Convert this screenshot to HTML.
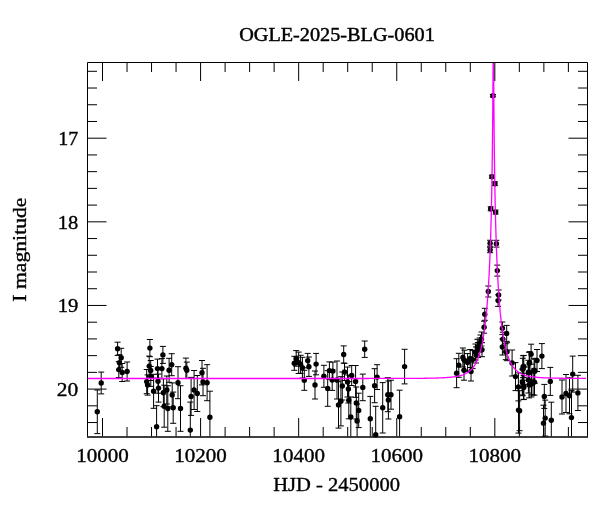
<!DOCTYPE html>
<html><head><meta charset="utf-8"><style>
html,body{margin:0;padding:0;background:#fff;width:600px;height:512px;overflow:hidden}
svg{display:block;will-change:transform}
</style></head><body>
<svg width="600" height="512" viewBox="0 0 600 512">
<defs><clipPath id="c"><rect x="87.5" y="62.5" width="500.0" height="374.0"/></clipPath></defs>
<rect width="600" height="512" fill="#fff"/>
<path d="M97.30 390.00V433.60M94.30 390.00h6M94.30 433.60h6M101.20 372.10V393.90M98.20 372.10h6M98.20 393.90h6M117.60 342.20V355.40M114.60 342.20h6M114.60 355.40h6M121.20 348.30V367.30M118.20 348.30h6M118.20 367.30h6M119.40 354.70V370.70M116.40 354.70h6M116.40 370.70h6M118.80 361.60V377.60M115.80 361.60h6M115.80 377.60h6M122.20 363.50V381.50M119.20 363.50h6M119.20 381.50h6M127.10 362.00V381.00M124.10 362.00h6M124.10 381.00h6M149.90 339.50V356.70M146.90 339.50h6M146.90 356.70h6M162.90 346.40V363.40M159.90 346.40h6M159.90 363.40h6M149.20 356.10V376.10M146.20 356.10h6M146.20 376.10h6M150.70 360.50V380.50M147.70 360.50h6M147.70 380.50h6M157.50 359.10V378.10M154.50 359.10h6M154.50 378.10h6M161.90 358.60V378.60M158.90 358.60h6M158.90 378.60h6M169.10 358.30V382.30M166.10 358.30h6M166.10 382.30h6M171.70 353.70V375.70M168.70 353.70h6M168.70 375.70h6M185.90 358.10V378.50M182.90 358.10h6M182.90 378.50h6M186.80 362.10V378.50M183.80 362.10h6M183.80 378.50h6M146.70 369.50V393.70M143.70 369.50h6M143.70 393.70h6M147.60 374.90V395.10M144.60 374.90h6M144.60 395.10h6M150.80 366.40V386.40M147.80 366.40h6M147.80 386.40h6M153.60 374.30V408.30M150.60 374.30h6M150.60 408.30h6M158.00 369.20V393.20M155.00 369.20h6M155.00 393.20h6M158.50 374.10V402.10M155.50 374.10h6M155.50 402.10h6M163.40 378.70V406.70M160.40 378.70h6M160.40 406.70h6M166.80 376.00V404.00M163.80 376.00h6M163.80 404.00h6M172.20 382.90V406.90M169.20 382.90h6M169.20 406.90h6M178.00 366.70V398.70M175.00 366.70h6M175.00 398.70h6M164.20 385.20V427.20M161.20 385.20h6M161.20 427.20h6M167.80 385.70V431.30M164.80 385.70h6M164.80 431.30h6M173.20 392.10V423.30M170.20 392.10h6M170.20 423.30h6M180.50 385.70V431.30M177.50 385.70h6M177.50 431.30h6M156.60 405.70V436.50M153.60 405.70h6M202.00 360.50V384.90M199.00 360.50h6M199.00 384.90h6M203.00 368.30V395.70M200.00 368.30h6M200.00 395.70h6M207.10 364.70V400.70M204.10 364.70h6M204.10 400.70h6M194.10 370.50V409.50M191.10 370.50h6M191.10 409.50h6M197.30 375.50V411.50M194.30 375.50h6M194.30 411.50h6M191.10 377.40V415.40M188.10 377.40h6M188.10 415.40h6M209.90 391.20V436.50M206.90 391.20h6M190.30 402.10V436.50M187.30 402.10h6M294.30 356.30V370.30M291.30 356.30h6M291.30 370.30h6M296.20 350.60V366.20M293.20 350.60h6M293.20 366.20h6M298.70 352.10V373.50M295.70 352.10h6M295.70 373.50h6M300.60 355.30V373.30M297.60 355.30h6M297.60 373.30h6M302.40 357.30V378.10M299.40 357.30h6M299.40 378.10h6M307.70 353.40V367.80M304.70 353.40h6M304.70 367.80h6M308.90 357.00V376.40M305.90 357.00h6M305.90 376.40h6M304.30 370.30V390.30M301.30 370.30h6M301.30 390.30h6M316.10 353.40V374.80M313.10 353.40h6M313.10 374.80h6M315.00 371.00V399.00M312.00 371.00h6M312.00 399.00h6M323.90 365.30V387.30M320.90 365.30h6M320.90 387.30h6M329.40 361.90V379.30M326.40 361.90h6M326.40 379.30h6M332.90 362.10V380.10M329.90 362.10h6M329.90 380.10h6M332.20 369.60V390.40M329.20 369.60h6M329.20 390.40h6M327.70 370.70V406.30M324.70 370.70h6M324.70 406.30h6M364.70 341.00V357.40M361.70 341.00h6M361.70 357.40h6M343.70 345.90V363.10M340.70 345.90h6M340.70 363.10h6M344.50 363.30V380.50M341.50 363.30h6M341.50 380.50h6M351.70 365.50V385.50M348.70 365.50h6M348.70 385.50h6M355.60 365.50V397.30M352.60 365.50h6M352.60 397.30h6M337.00 361.00V399.00M334.00 361.00h6M334.00 399.00h6M347.50 367.00V397.00M344.50 367.00h6M344.50 397.00h6M342.30 372.00V400.00M339.30 372.00h6M339.30 400.00h6M348.40 375.00V403.00M345.40 375.00h6M345.40 403.00h6M340.90 376.70V425.90M337.90 376.70h6M337.90 425.90h6M338.50 381.70V428.10M335.50 381.70h6M335.50 428.10h6M348.80 381.60V418.80M345.80 381.60h6M345.80 418.80h6M350.80 397.00V436.50M347.80 397.00h6M356.30 387.00V419.00M353.30 387.00h6M353.30 419.00h6M358.70 393.20V427.60M355.70 393.20h6M355.70 427.60h6M357.10 404.00V436.50M354.10 404.00h6M362.80 374.10V400.70M359.80 374.10h6M359.80 400.70h6M370.30 396.40V436.50M367.30 396.40h6M374.60 368.70V402.70M371.60 368.70h6M371.60 402.70h6M375.70 406.30V436.50M372.70 406.30h6M404.60 349.30V383.90M401.60 349.30h6M401.60 383.90h6M377.10 364.70V389.50M374.10 364.70h6M374.10 389.50h6M382.70 382.60V433.00M379.70 382.60h6M379.70 433.00h6M387.80 377.70V411.70M384.80 377.70h6M384.80 411.70h6M391.00 380.20V409.20M388.00 380.20h6M388.00 409.20h6M388.40 381.00V419.00M385.40 381.00h6M385.40 419.00h6M399.60 390.20V436.50M396.60 390.20h6M456.60 358.70V387.70M453.60 358.70h6M453.60 387.70h6M458.80 353.30V377.30M455.80 353.30h6M455.80 377.30h6M462.90 348.00V367.00M459.90 348.00h6M459.90 367.00h6M464.40 350.20V370.20M461.40 350.20h6M461.40 370.20h6M464.00 360.20V380.20M461.00 360.20h6M461.00 380.20h6M467.60 353.60V371.60M464.60 353.60h6M464.60 371.60h6M470.20 349.50V367.50M467.20 349.50h6M467.20 367.50h6M471.00 362.00V381.00M468.00 362.00h6M468.00 381.00h6M472.60 350.60V368.60M469.60 350.60h6M469.60 368.60h6M475.50 344.00V360.00M472.50 344.00h6M472.50 360.00h6M477.30 339.30V355.30M474.30 339.30h6M474.30 355.30h6M476.00 347.00V363.00M473.00 347.00h6M473.00 363.00h6M478.00 342.50V357.50M475.00 342.50h6M475.00 357.50h6M479.50 338.00V352.00M476.50 338.00h6M476.50 352.00h6M480.50 335.00V349.00M477.50 335.00h6M477.50 349.00h6M481.50 332.00V346.00M478.50 332.00h6M478.50 346.00h6M482.00 342.70V356.70M479.00 342.70h6M479.00 356.70h6M484.10 321.20V333.20M481.10 321.20h6M481.10 333.20h6M484.80 308.30V320.30M481.80 308.30h6M481.80 320.30h6M488.30 286.00V297.00M485.30 286.00h6M485.30 297.00h6M490.10 247.30V252.70M487.10 247.30h6M487.10 252.70h6M490.10 240.25V246.25M487.10 240.25h6M487.10 246.25h6M490.70 206.80V210.80M487.70 206.80h6M487.70 210.80h6M491.90 175.20V178.20M488.90 175.20h6M488.90 178.20h6M492.90 94.50V96.90M489.90 94.50h6M489.90 96.90h6M494.90 181.80V185.60M491.90 181.80h6M491.90 185.60h6M495.60 210.10V214.10M492.60 210.10h6M492.60 214.10h6M496.40 240.30V247.10M493.40 240.30h6M493.40 247.10h6M497.30 265.10V276.10M494.30 265.10h6M494.30 276.10h6M498.60 290.00V300.00M495.60 290.00h6M495.60 300.00h6M498.10 294.80V306.40M495.10 294.80h6M495.10 306.40h6M502.40 322.00V334.60M499.40 322.00h6M499.40 334.60h6M506.70 325.40V341.40M503.70 325.40h6M503.70 341.40h6M502.80 332.20V346.20M499.80 332.20h6M499.80 346.20h6M502.40 339.00V355.00M499.40 339.00h6M499.40 355.00h6M505.70 343.70V359.70M502.70 343.70h6M502.70 359.70h6M507.10 342.70V360.70M504.10 342.70h6M504.10 360.70h6M512.10 350.00V376.00M509.10 350.00h6M509.10 376.00h6M515.50 362.60V390.60M512.50 362.60h6M512.50 390.60h6M523.80 355.40V377.40M520.80 355.40h6M520.80 377.40h6M522.80 358.30V380.30M519.80 358.30h6M519.80 380.30h6M531.10 344.20V364.20M528.10 344.20h6M528.10 364.20h6M537.00 349.50V371.50M534.00 349.50h6M534.00 371.50h6M541.90 343.60V368.60M538.90 343.60h6M538.90 368.60h6M529.20 352.40V374.40M526.20 352.40h6M526.20 374.40h6M534.10 358.30V382.30M531.10 358.30h6M531.10 382.30h6M522.30 369.00V395.00M519.30 369.00h6M519.30 395.00h6M533.10 369.00V395.00M530.10 369.00h6M530.10 395.00h6M529.20 371.90V397.90M526.20 371.90h6M526.20 397.90h6M518.40 372.90V400.90M515.40 372.90h6M515.40 400.90h6M522.60 369.70V395.70M519.60 369.70h6M519.60 395.70h6M523.80 373.30V399.30M520.80 373.30h6M520.80 399.30h6M531.50 370.90V396.90M528.50 370.90h6M528.50 396.90h6M534.50 369.10V395.10M531.50 369.10h6M531.50 395.10h6M518.50 387.10V433.10M515.50 387.10h6M515.50 433.10h6M519.60 390.70V430.70M516.60 390.70h6M516.60 430.70h6M544.30 384.40V408.40M541.30 384.40h6M541.30 408.40h6M545.20 400.10V436.10M542.20 400.10h6M542.20 436.10h6M543.50 405.20V436.50M540.50 405.20h6M550.30 367.40V395.40M547.30 367.40h6M547.30 395.40h6M572.70 356.10V392.10M569.70 356.10h6M569.70 392.10h6M562.00 380.00V414.00M559.00 380.00h6M559.00 414.00h6M566.00 374.50V412.50M563.00 374.50h6M563.00 412.50h6M569.50 377.80V413.80M566.50 377.80h6M566.50 413.80h6M571.50 390.60V436.50M568.50 390.60h6M577.90 375.30V410.50M574.90 375.30h6M574.90 410.50h6M551.30 402.20V436.50M548.30 402.20h6M523.10 355.70V377.70M520.10 355.70h6M520.10 377.70h6M528.40 360.30V384.30M525.40 360.30h6M525.40 384.30h6M534.80 359.20V383.20M531.80 359.20h6M531.80 383.20h6M529.60 351.60V373.60M526.60 351.60h6M526.60 373.60h6M528.40 367.00V393.00M525.40 367.00h6M525.40 393.00h6M531.30 370.90V394.90M528.30 370.90h6M528.30 394.90h6M523.70 375.60V399.60M520.70 375.60h6M520.70 399.60h6" stroke="#000" stroke-width="1" fill="none"/><g fill="#000"><circle cx="97.30" cy="411.80" r="2.7"/><circle cx="101.20" cy="383.00" r="2.7"/><circle cx="117.60" cy="348.80" r="2.7"/><circle cx="121.20" cy="357.80" r="2.7"/><circle cx="119.40" cy="362.70" r="2.7"/><circle cx="118.80" cy="369.60" r="2.7"/><circle cx="122.20" cy="372.50" r="2.7"/><circle cx="127.10" cy="371.50" r="2.7"/><circle cx="149.90" cy="348.10" r="2.7"/><circle cx="162.90" cy="354.90" r="2.7"/><circle cx="149.20" cy="366.10" r="2.7"/><circle cx="150.70" cy="370.50" r="2.7"/><circle cx="157.50" cy="368.60" r="2.7"/><circle cx="161.90" cy="368.60" r="2.7"/><circle cx="169.10" cy="370.30" r="2.7"/><circle cx="171.70" cy="364.70" r="2.7"/><circle cx="185.90" cy="368.30" r="2.7"/><circle cx="186.80" cy="370.30" r="2.7"/><circle cx="146.70" cy="381.60" r="2.7"/><circle cx="147.60" cy="385.00" r="2.7"/><circle cx="150.80" cy="376.40" r="2.7"/><circle cx="153.60" cy="391.30" r="2.7"/><circle cx="158.00" cy="381.20" r="2.7"/><circle cx="158.50" cy="388.10" r="2.7"/><circle cx="163.40" cy="392.70" r="2.7"/><circle cx="166.80" cy="390.00" r="2.7"/><circle cx="172.20" cy="394.90" r="2.7"/><circle cx="178.00" cy="382.70" r="2.7"/><circle cx="164.20" cy="406.20" r="2.7"/><circle cx="167.80" cy="408.50" r="2.7"/><circle cx="173.20" cy="407.70" r="2.7"/><circle cx="180.50" cy="408.50" r="2.7"/><circle cx="156.60" cy="426.70" r="2.7"/><circle cx="202.00" cy="372.70" r="2.7"/><circle cx="203.00" cy="382.00" r="2.7"/><circle cx="207.10" cy="382.70" r="2.7"/><circle cx="194.10" cy="390.00" r="2.7"/><circle cx="197.30" cy="393.50" r="2.7"/><circle cx="191.10" cy="396.40" r="2.7"/><circle cx="209.90" cy="417.20" r="2.7"/><circle cx="190.30" cy="430.10" r="2.7"/><circle cx="294.30" cy="363.30" r="2.7"/><circle cx="296.20" cy="358.40" r="2.7"/><circle cx="298.70" cy="362.80" r="2.7"/><circle cx="300.60" cy="364.30" r="2.7"/><circle cx="302.40" cy="367.70" r="2.7"/><circle cx="307.70" cy="360.60" r="2.7"/><circle cx="308.90" cy="366.70" r="2.7"/><circle cx="304.30" cy="380.30" r="2.7"/><circle cx="316.10" cy="364.10" r="2.7"/><circle cx="315.00" cy="385.00" r="2.7"/><circle cx="323.90" cy="376.30" r="2.7"/><circle cx="329.40" cy="370.60" r="2.7"/><circle cx="332.90" cy="371.10" r="2.7"/><circle cx="332.20" cy="380.00" r="2.7"/><circle cx="327.70" cy="388.50" r="2.7"/><circle cx="364.70" cy="349.20" r="2.7"/><circle cx="343.70" cy="354.50" r="2.7"/><circle cx="344.50" cy="371.90" r="2.7"/><circle cx="351.70" cy="375.50" r="2.7"/><circle cx="355.60" cy="381.40" r="2.7"/><circle cx="337.00" cy="380.00" r="2.7"/><circle cx="347.50" cy="382.00" r="2.7"/><circle cx="342.30" cy="386.00" r="2.7"/><circle cx="348.40" cy="389.00" r="2.7"/><circle cx="340.90" cy="401.30" r="2.7"/><circle cx="338.50" cy="404.90" r="2.7"/><circle cx="348.80" cy="400.20" r="2.7"/><circle cx="350.80" cy="417.00" r="2.7"/><circle cx="356.30" cy="403.00" r="2.7"/><circle cx="358.70" cy="410.40" r="2.7"/><circle cx="357.10" cy="421.00" r="2.7"/><circle cx="362.80" cy="387.40" r="2.7"/><circle cx="370.30" cy="418.80" r="2.7"/><circle cx="374.60" cy="385.70" r="2.7"/><circle cx="375.70" cy="434.70" r="2.7"/><circle cx="404.60" cy="366.60" r="2.7"/><circle cx="377.10" cy="377.10" r="2.7"/><circle cx="382.70" cy="407.80" r="2.7"/><circle cx="387.80" cy="394.70" r="2.7"/><circle cx="391.00" cy="394.70" r="2.7"/><circle cx="388.40" cy="400.00" r="2.7"/><circle cx="399.60" cy="416.80" r="2.7"/><circle cx="456.60" cy="373.20" r="2.7"/><circle cx="458.80" cy="365.30" r="2.7"/><circle cx="462.90" cy="357.50" r="2.7"/><circle cx="464.40" cy="360.20" r="2.7"/><circle cx="464.00" cy="370.20" r="2.7"/><circle cx="467.60" cy="362.60" r="2.7"/><circle cx="470.20" cy="358.50" r="2.7"/><circle cx="471.00" cy="371.50" r="2.7"/><circle cx="472.60" cy="359.60" r="2.7"/><circle cx="475.50" cy="352.00" r="2.7"/><circle cx="477.30" cy="347.30" r="2.7"/><circle cx="476.00" cy="355.00" r="2.7"/><circle cx="478.00" cy="350.00" r="2.7"/><circle cx="479.50" cy="345.00" r="2.7"/><circle cx="480.50" cy="342.00" r="2.7"/><circle cx="481.50" cy="339.00" r="2.7"/><circle cx="482.00" cy="349.70" r="2.7"/><circle cx="484.10" cy="327.20" r="2.7"/><circle cx="484.80" cy="314.30" r="2.7"/><circle cx="488.30" cy="291.50" r="2.7"/><circle cx="490.10" cy="250.00" r="2.7"/><circle cx="490.10" cy="243.25" r="2.7"/><circle cx="490.70" cy="208.80" r="2.7"/><circle cx="491.90" cy="176.70" r="2.7"/><circle cx="492.90" cy="95.70" r="2.7"/><circle cx="494.90" cy="183.70" r="2.7"/><circle cx="495.60" cy="212.10" r="2.7"/><circle cx="496.40" cy="243.70" r="2.7"/><circle cx="497.30" cy="270.60" r="2.7"/><circle cx="498.60" cy="295.00" r="2.7"/><circle cx="498.10" cy="300.60" r="2.7"/><circle cx="502.40" cy="328.30" r="2.7"/><circle cx="506.70" cy="333.40" r="2.7"/><circle cx="502.80" cy="339.20" r="2.7"/><circle cx="502.40" cy="347.00" r="2.7"/><circle cx="505.70" cy="351.70" r="2.7"/><circle cx="507.10" cy="351.70" r="2.7"/><circle cx="512.10" cy="363.00" r="2.7"/><circle cx="515.50" cy="376.60" r="2.7"/><circle cx="523.80" cy="366.40" r="2.7"/><circle cx="522.80" cy="369.30" r="2.7"/><circle cx="531.10" cy="354.20" r="2.7"/><circle cx="537.00" cy="360.50" r="2.7"/><circle cx="541.90" cy="356.10" r="2.7"/><circle cx="529.20" cy="363.40" r="2.7"/><circle cx="534.10" cy="370.30" r="2.7"/><circle cx="522.30" cy="382.00" r="2.7"/><circle cx="533.10" cy="382.00" r="2.7"/><circle cx="529.20" cy="384.90" r="2.7"/><circle cx="518.40" cy="386.90" r="2.7"/><circle cx="522.60" cy="382.70" r="2.7"/><circle cx="523.80" cy="386.30" r="2.7"/><circle cx="531.50" cy="383.90" r="2.7"/><circle cx="534.50" cy="382.10" r="2.7"/><circle cx="518.50" cy="410.10" r="2.7"/><circle cx="519.60" cy="410.70" r="2.7"/><circle cx="544.30" cy="396.40" r="2.7"/><circle cx="545.20" cy="418.10" r="2.7"/><circle cx="543.50" cy="423.20" r="2.7"/><circle cx="550.30" cy="381.40" r="2.7"/><circle cx="572.70" cy="374.10" r="2.7"/><circle cx="562.00" cy="397.00" r="2.7"/><circle cx="566.00" cy="393.50" r="2.7"/><circle cx="569.50" cy="395.80" r="2.7"/><circle cx="571.50" cy="417.60" r="2.7"/><circle cx="577.90" cy="392.90" r="2.7"/><circle cx="551.30" cy="420.20" r="2.7"/><circle cx="523.10" cy="366.70" r="2.7"/><circle cx="528.40" cy="372.30" r="2.7"/><circle cx="534.80" cy="371.20" r="2.7"/><circle cx="529.60" cy="362.60" r="2.7"/><circle cx="528.40" cy="380.00" r="2.7"/><circle cx="531.30" cy="382.90" r="2.7"/><circle cx="523.70" cy="387.60" r="2.7"/></g><polyline points="87.30,378.50 88.28,378.50 89.26,378.50 90.24,378.50 91.22,378.50 92.20,378.50 93.18,378.50 94.16,378.50 95.14,378.50 96.12,378.50 97.11,378.50 98.09,378.50 99.07,378.50 100.05,378.50 101.03,378.50 102.01,378.50 102.99,378.50 103.97,378.50 104.95,378.50 105.93,378.50 106.91,378.50 107.89,378.50 108.88,378.50 109.86,378.50 110.84,378.50 111.82,378.50 112.80,378.50 113.78,378.50 114.76,378.50 115.74,378.50 116.72,378.50 117.70,378.50 118.68,378.50 119.66,378.50 120.64,378.50 121.63,378.50 122.61,378.50 123.59,378.50 124.57,378.50 125.55,378.50 126.53,378.50 127.51,378.50 128.49,378.50 129.47,378.50 130.45,378.50 131.43,378.50 132.41,378.50 133.40,378.50 134.38,378.50 135.36,378.50 136.34,378.50 137.32,378.50 138.30,378.50 139.28,378.50 140.26,378.50 141.24,378.50 142.22,378.50 143.20,378.50 144.18,378.50 145.16,378.50 146.15,378.50 147.13,378.50 148.11,378.50 149.09,378.50 150.07,378.50 151.05,378.50 152.03,378.50 153.01,378.50 153.99,378.50 154.97,378.50 155.95,378.50 156.93,378.50 157.92,378.50 158.90,378.50 159.88,378.50 160.86,378.50 161.84,378.50 162.82,378.50 163.80,378.50 164.78,378.50 165.76,378.50 166.74,378.50 167.72,378.50 168.70,378.50 169.68,378.50 170.67,378.50 171.65,378.50 172.63,378.50 173.61,378.50 174.59,378.50 175.57,378.50 176.55,378.50 177.53,378.50 178.51,378.50 179.49,378.50 180.47,378.50 181.45,378.50 182.44,378.50 183.42,378.50 184.40,378.50 185.38,378.50 186.36,378.50 187.34,378.50 188.32,378.50 189.30,378.50 190.28,378.50 191.26,378.50 192.24,378.50 193.22,378.50 194.20,378.50 195.19,378.50 196.17,378.50 197.15,378.50 198.13,378.50 199.11,378.50 200.09,378.50 201.07,378.50 202.05,378.50 203.03,378.50 204.01,378.50 204.99,378.50 205.97,378.50 206.96,378.50 207.94,378.50 208.92,378.50 209.90,378.50 210.88,378.50 211.86,378.50 212.84,378.50 213.82,378.50 214.80,378.50 215.78,378.50 216.76,378.50 217.74,378.50 218.72,378.50 219.71,378.50 220.69,378.50 221.67,378.50 222.65,378.50 223.63,378.50 224.61,378.50 225.59,378.50 226.57,378.50 227.55,378.50 228.53,378.50 229.51,378.50 230.49,378.50 231.48,378.50 232.46,378.50 233.44,378.50 234.42,378.50 235.40,378.50 236.38,378.50 237.36,378.50 238.34,378.50 239.32,378.50 240.30,378.50 241.28,378.50 242.26,378.50 243.24,378.50 244.23,378.50 245.21,378.50 246.19,378.50 247.17,378.50 248.15,378.50 249.13,378.50 250.11,378.50 251.09,378.50 252.07,378.50 253.05,378.50 254.03,378.50 255.01,378.50 256.00,378.50 256.98,378.50 257.96,378.50 258.94,378.50 259.92,378.50 260.90,378.50 261.88,378.50 262.86,378.50 263.84,378.50 264.82,378.50 265.80,378.50 266.78,378.50 267.76,378.50 268.75,378.50 269.73,378.50 270.71,378.50 271.69,378.50 272.67,378.50 273.65,378.50 274.63,378.50 275.61,378.50 276.59,378.50 277.57,378.50 278.55,378.50 279.53,378.50 280.52,378.50 281.50,378.50 282.48,378.50 283.46,378.50 284.44,378.50 285.42,378.50 286.40,378.50 287.38,378.50 288.36,378.50 289.34,378.50 290.32,378.50 291.30,378.50 292.28,378.50 293.27,378.50 294.25,378.50 295.23,378.50 296.21,378.50 297.19,378.50 298.17,378.50 299.15,378.50 300.13,378.50 301.11,378.50 302.09,378.50 303.07,378.50 304.05,378.50 305.04,378.50 306.02,378.50 307.00,378.50 307.98,378.49 308.96,378.49 309.94,378.49 310.92,378.49 311.90,378.49 312.88,378.49 313.86,378.49 314.84,378.49 315.82,378.49 316.80,378.49 317.79,378.49 318.77,378.49 319.75,378.49 320.73,378.49 321.71,378.49 322.69,378.49 323.67,378.49 324.65,378.49 325.63,378.49 326.61,378.49 327.59,378.49 328.57,378.49 329.56,378.49 330.54,378.49 331.52,378.49 332.50,378.49 333.48,378.49 334.46,378.49 335.44,378.49 336.42,378.49 337.40,378.49 338.38,378.49 339.36,378.49 340.34,378.49 341.32,378.49 342.31,378.49 343.29,378.49 344.27,378.49 345.25,378.49 346.23,378.49 347.21,378.49 348.19,378.49 349.17,378.49 350.15,378.49 351.13,378.49 352.11,378.49 353.09,378.48 354.08,378.48 355.06,378.48 356.04,378.48 357.02,378.48 358.00,378.48 358.98,378.48 359.96,378.48 360.94,378.48 361.92,378.48 362.90,378.48 363.88,378.48 364.86,378.48 365.84,378.48 366.83,378.48 367.81,378.48 368.79,378.48 369.77,378.47 370.75,378.47 371.73,378.47 372.71,378.47 373.69,378.47 374.67,378.47 375.65,378.47 376.63,378.47 377.61,378.47 378.60,378.47 379.58,378.47 380.56,378.46 381.54,378.46 382.52,378.46 383.50,378.46 384.48,378.46 385.46,378.46 386.44,378.46 387.42,378.45 388.40,378.45 389.38,378.45 390.36,378.45 391.35,378.45 392.33,378.45 393.31,378.44 394.29,378.44 395.27,378.44 396.25,378.44 397.23,378.43 398.21,378.43 399.19,378.43 400.17,378.43 401.15,378.42 402.13,378.42 403.12,378.42 404.10,378.41 405.08,378.41 406.06,378.40 407.04,378.40 408.02,378.40 409.00,378.39 409.98,378.39 410.96,378.38 411.94,378.38 412.92,378.37 413.90,378.36 414.88,378.36 415.87,378.35 416.85,378.34 417.83,378.33 418.81,378.33 419.79,378.32 420.77,378.31 421.75,378.30 422.73,378.29 423.71,378.28 424.69,378.26 425.67,378.25 426.65,378.24 427.64,378.22 428.62,378.21 429.60,378.19 430.58,378.17 431.56,378.15 432.54,378.13 433.52,378.11 434.50,378.08 435.48,378.06 436.46,378.03 437.44,378.00 438.42,377.97 439.40,377.93 440.39,377.89 441.37,377.85 442.35,377.81 443.33,377.76 444.31,377.71 445.29,377.65 446.27,377.59 447.25,377.52 448.23,377.44 449.21,377.36 450.19,377.27 451.17,377.17 452.16,377.06 453.14,376.94 454.12,376.81 455.10,376.67 456.08,376.51 457.06,376.33 458.04,376.14 459.02,375.92 460.00,375.68 460.98,375.41 461.96,375.11 462.94,374.77 463.92,374.39 464.91,373.97 465.89,373.49 466.87,372.96 467.85,372.36 468.83,371.67 469.81,370.90 470.79,370.02 471.77,369.03 472.75,367.89 473.73,366.60 474.71,365.11 475.20,364.29 475.23,364.25 475.25,364.21 475.28,364.16 475.30,364.12 475.33,364.08 475.35,364.03 475.38,363.99 475.40,363.95 475.42,363.90 475.45,363.86 475.47,363.82 475.50,363.77 475.52,363.73 475.55,363.68 475.57,363.64 475.60,363.59 475.62,363.55 475.65,363.50 475.67,363.46 475.69,363.41 475.72,363.37 475.74,363.32 475.77,363.28 475.79,363.23 475.82,363.18 475.84,363.14 475.87,363.09 475.89,363.04 475.92,363.00 475.94,362.95 475.96,362.90 475.99,362.86 476.01,362.81 476.04,362.76 476.06,362.71 476.09,362.66 476.11,362.62 476.14,362.57 476.16,362.52 476.18,362.47 476.21,362.42 476.23,362.37 476.26,362.32 476.28,362.27 476.31,362.23 476.33,362.18 476.36,362.13 476.38,362.08 476.41,362.03 476.43,361.97 476.45,361.92 476.48,361.87 476.50,361.82 476.53,361.77 476.55,361.72 476.58,361.67 476.60,361.62 476.63,361.56 476.65,361.51 476.68,361.46 476.70,361.41 476.72,361.36 476.75,361.30 476.77,361.25 476.80,361.20 476.82,361.14 476.85,361.09 476.87,361.04 476.90,360.98 476.92,360.93 476.94,360.87 476.97,360.82 476.99,360.76 477.02,360.71 477.04,360.65 477.07,360.60 477.09,360.54 477.12,360.49 477.14,360.43 477.17,360.38 477.19,360.32 477.21,360.26 477.24,360.21 477.26,360.15 477.29,360.09 477.31,360.04 477.34,359.98 477.36,359.92 477.39,359.86 477.41,359.80 477.44,359.75 477.46,359.69 477.48,359.63 477.51,359.57 477.53,359.51 477.56,359.45 477.58,359.39 477.61,359.33 477.63,359.27 477.66,359.21 477.68,359.15 477.71,359.09 477.73,359.03 477.75,358.97 477.78,358.91 477.80,358.85 477.83,358.78 477.85,358.72 477.88,358.66 477.90,358.60 477.93,358.54 477.95,358.47 477.97,358.41 478.00,358.35 478.02,358.28 478.05,358.22 478.07,358.15 478.10,358.09 478.12,358.03 478.15,357.96 478.17,357.90 478.20,357.83 478.22,357.77 478.24,357.70 478.27,357.63 478.29,357.57 478.32,357.50 478.34,357.44 478.37,357.37 478.39,357.30 478.42,357.23 478.44,357.17 478.47,357.10 478.49,357.03 478.51,356.96 478.54,356.89 478.56,356.82 478.59,356.76 478.61,356.69 478.64,356.62 478.66,356.55 478.69,356.48 478.71,356.41 478.73,356.34 478.76,356.26 478.78,356.19 478.81,356.12 478.83,356.05 478.86,355.98 478.88,355.91 478.91,355.83 478.93,355.76 478.96,355.69 478.98,355.62 479.00,355.54 479.03,355.47 479.05,355.39 479.08,355.32 479.10,355.24 479.13,355.17 479.15,355.09 479.18,355.02 479.20,354.94 479.23,354.87 479.25,354.79 479.27,354.71 479.30,354.64 479.32,354.56 479.35,354.48 479.37,354.41 479.40,354.33 479.42,354.25 479.45,354.17 479.47,354.09 479.49,354.01 479.52,353.93 479.54,353.85 479.57,353.77 479.59,353.69 479.62,353.61 479.64,353.53 479.67,353.45 479.69,353.37 479.72,353.29 479.74,353.20 479.76,353.12 479.79,353.04 479.81,352.96 479.84,352.87 479.86,352.79 479.89,352.71 479.91,352.62 479.94,352.54 479.96,352.45 479.99,352.37 480.01,352.28 480.03,352.19 480.06,352.11 480.08,352.02 480.11,351.93 480.13,351.85 480.16,351.76 480.18,351.67 480.21,351.58 480.23,351.49 480.26,351.41 480.28,351.32 480.30,351.23 480.33,351.14 480.35,351.05 480.38,350.96 480.40,350.87 480.43,350.77 480.45,350.68 480.48,350.59 480.50,350.50 480.52,350.41 480.55,350.31 480.57,350.22 480.60,350.13 480.62,350.03 480.65,349.94 480.67,349.84 480.70,349.75 480.72,349.65 480.75,349.56 480.77,349.46 480.79,349.36 480.82,349.27 480.84,349.17 480.87,349.07 480.89,348.97 480.92,348.87 480.94,348.77 480.97,348.67 480.99,348.58 481.02,348.48 481.04,348.37 481.06,348.27 481.09,348.17 481.11,348.07 481.14,347.97 481.16,347.87 481.19,347.76 481.21,347.66 481.24,347.56 481.26,347.45 481.28,347.35 481.31,347.24 481.33,347.14 481.36,347.03 481.38,346.93 481.41,346.82 481.43,346.71 481.46,346.61 481.48,346.50 481.51,346.39 481.53,346.28 481.55,346.17 481.58,346.06 481.60,345.95 481.63,345.84 481.65,345.73 481.68,345.62 481.70,345.51 481.73,345.40 481.75,345.29 481.78,345.17 481.80,345.06 481.82,344.95 481.85,344.83 481.87,344.72 481.90,344.60 481.92,344.49 481.95,344.37 481.97,344.25 482.00,344.14 482.02,344.02 482.05,343.90 482.07,343.78 482.09,343.67 482.12,343.55 482.14,343.43 482.17,343.31 482.19,343.19 482.22,343.06 482.24,342.94 482.27,342.82 482.29,342.70 482.31,342.57 482.34,342.45 482.36,342.33 482.39,342.20 482.41,342.08 482.44,341.95 482.46,341.83 482.49,341.70 482.51,341.57 482.54,341.44 482.56,341.32 482.58,341.19 482.61,341.06 482.63,340.93 482.66,340.80 482.68,340.67 482.71,340.54 482.73,340.40 482.76,340.27 482.78,340.14 482.81,340.01 482.83,339.87 482.85,339.74 482.88,339.60 482.90,339.47 482.93,339.33 482.95,339.19 482.98,339.06 483.00,338.92 483.03,338.78 483.05,338.64 483.07,338.50 483.10,338.36 483.12,338.22 483.15,338.08 483.17,337.94 483.20,337.80 483.22,337.65 483.25,337.51 483.27,337.37 483.30,337.22 483.32,337.08 483.34,336.93 483.37,336.78 483.39,336.64 483.42,336.49 483.44,336.34 483.47,336.19 483.49,336.04 483.52,335.89 483.54,335.74 483.57,335.59 483.59,335.44 483.61,335.28 483.64,335.13 483.66,334.98 483.69,334.82 483.71,334.67 483.74,334.51 483.76,334.35 483.79,334.20 483.81,334.04 483.84,333.88 483.86,333.72 483.88,333.56 483.91,333.40 483.93,333.24 483.96,333.08 483.98,332.91 484.01,332.75 484.03,332.59 484.06,332.42 484.08,332.26 484.10,332.09 484.13,331.92 484.15,331.76 484.18,331.59 484.20,331.42 484.23,331.25 484.25,331.08 484.28,330.91 484.30,330.74 484.33,330.56 484.35,330.39 484.37,330.22 484.40,330.04 484.42,329.87 484.45,329.69 484.47,329.51 484.50,329.33 484.52,329.16 484.55,328.98 484.57,328.80 484.60,328.61 484.62,328.43 484.64,328.25 484.67,328.07 484.69,327.88 484.72,327.70 484.74,327.51 484.77,327.32 484.79,327.14 484.82,326.95 484.84,326.76 484.86,326.57 484.89,326.38 484.91,326.19 484.94,325.99 484.96,325.80 484.99,325.61 485.01,325.41 485.04,325.22 485.06,325.02 485.09,324.82 485.11,324.62 485.13,324.42 485.16,324.22 485.18,324.02 485.21,323.82 485.23,323.62 485.26,323.41 485.28,323.21 485.31,323.00 485.33,322.80 485.36,322.59 485.38,322.38 485.40,322.17 485.43,321.96 485.45,321.75 485.48,321.53 485.50,321.32 485.53,321.11 485.55,320.89 485.58,320.67 485.60,320.46 485.62,320.24 485.65,320.02 485.67,319.80 485.70,319.58 485.72,319.36 485.75,319.13 485.77,318.91 485.80,318.68 485.82,318.45 485.85,318.23 485.87,318.00 485.89,317.77 485.92,317.54 485.94,317.31 485.97,317.07 485.99,316.84 486.02,316.60 486.04,316.37 486.07,316.13 486.09,315.89 486.12,315.65 486.14,315.41 486.16,315.17 486.19,314.92 486.21,314.68 486.24,314.43 486.26,314.19 486.29,313.94 486.31,313.69 486.34,313.44 486.36,313.19 486.39,312.94 486.41,312.68 486.43,312.43 486.46,312.17 486.48,311.91 486.51,311.65 486.53,311.39 486.56,311.13 486.58,310.87 486.61,310.60 486.63,310.34 486.65,310.07 486.68,309.80 486.70,309.53 486.73,309.26 486.75,308.99 486.78,308.72 486.80,308.44 486.83,308.17 486.85,307.89 486.88,307.61 486.90,307.33 486.92,307.05 486.95,306.76 486.97,306.48 487.00,306.19 487.02,305.90 487.05,305.62 487.07,305.32 487.10,305.03 487.12,304.74 487.15,304.44 487.17,304.15 487.19,303.85 487.22,303.55 487.24,303.25 487.27,302.94 487.29,302.64 487.32,302.33 487.34,302.03 487.37,301.72 487.39,301.41 487.41,301.09 487.44,300.78 487.46,300.46 487.49,300.14 487.51,299.82 487.54,299.50 487.56,299.18 487.59,298.86 487.61,298.53 487.64,298.20 487.66,297.87 487.68,297.54 487.71,297.21 487.73,296.87 487.76,296.53 487.78,296.19 487.81,295.85 487.83,295.51 487.86,295.16 487.88,294.82 487.91,294.47 487.93,294.12 487.95,293.77 487.98,293.41 488.00,293.05 488.03,292.70 488.05,292.33 488.08,291.97 488.10,291.61 488.13,291.24 488.15,290.87 488.18,290.50 488.20,290.13 488.22,289.75 488.25,289.37 488.27,288.99 488.30,288.61 488.32,288.22 488.35,287.84 488.37,287.45 488.40,287.06 488.42,286.66 488.44,286.27 488.47,285.87 488.49,285.47 488.52,285.06 488.54,284.66 488.57,284.25 488.59,283.84 488.62,283.42 488.64,283.01 488.67,282.59 488.69,282.17 488.71,281.74 488.74,281.32 488.76,280.89 488.79,280.46 488.81,280.02 488.84,279.59 488.86,279.14 488.89,278.70 488.91,278.26 488.94,277.81 488.96,277.36 488.98,276.90 489.01,276.44 489.03,275.98 489.06,275.52 489.08,275.05 489.11,274.58 489.13,274.11 489.16,273.63 489.18,273.15 489.20,272.67 489.23,272.18 489.25,271.69 489.28,271.20 489.30,270.71 489.33,270.21 489.35,269.70 489.38,269.20 489.40,268.69 489.43,268.17 489.45,267.65 489.47,267.13 489.50,266.61 489.52,266.08 489.55,265.55 489.57,265.01 489.60,264.47 489.62,263.93 489.65,263.38 489.67,262.83 489.70,262.27 489.72,261.71 489.74,261.14 489.77,260.57 489.79,260.00 489.82,259.42 489.84,258.84 489.87,258.25 489.89,257.66 489.92,257.07 489.94,256.47 489.97,255.86 489.99,255.25 490.01,254.63 490.04,254.01 490.06,253.39 490.09,252.76 490.11,252.12 490.14,251.48 490.16,250.83 490.19,250.18 490.21,249.53 490.23,248.86 490.26,248.19 490.28,247.52 490.31,246.84 490.33,246.15 490.36,245.46 490.38,244.76 490.41,244.06 490.43,243.35 490.46,242.63 490.48,241.91 490.50,241.18 490.53,240.44 490.55,239.70 490.58,238.95 490.60,238.19 490.63,237.43 490.65,236.65 490.68,235.87 490.70,235.09 490.73,234.29 490.75,233.49 490.77,232.68 490.80,231.86 490.82,231.03 490.85,230.20 490.87,229.36 490.90,228.50 490.92,227.64 490.95,226.77 490.97,225.89 490.99,225.00 491.02,224.10 491.04,223.19 491.07,222.28 491.09,221.35 491.12,220.41 491.14,219.46 491.17,218.50 491.19,217.53 491.22,216.54 491.24,215.55 491.26,214.54 491.29,213.52 491.31,212.49 491.34,211.45 491.36,210.39 491.39,209.32 491.41,208.24 491.44,207.14 491.46,206.03 491.49,204.91 491.51,203.77 491.53,202.61 491.56,201.44 491.58,200.26 491.61,199.05 491.63,197.83 491.66,196.60 491.68,195.34 491.71,194.07 491.73,192.78 491.75,191.47 491.78,190.14 491.80,188.79 491.83,187.41 491.85,186.02 491.88,184.61 491.90,183.17 491.93,181.71 491.95,180.22 491.98,178.72 492.00,177.18 492.02,175.62 492.05,174.03 492.07,172.41 492.10,170.77 492.12,169.09 492.15,167.38 492.17,165.65 492.20,163.87 492.22,162.07 492.25,160.23 492.27,158.35 492.29,156.43 492.32,154.48 492.34,152.48 492.37,150.44 492.39,148.36 492.42,146.23 492.44,144.05 492.47,141.82 492.49,139.55 492.52,137.21 492.54,134.83 492.56,132.39 492.59,129.88 492.61,127.32 492.64,124.69 492.66,121.99 492.69,119.23 492.71,116.39 492.74,113.48 492.76,110.49 492.78,107.43 492.81,104.28 492.83,101.06 492.86,97.75 492.88,94.36 492.91,90.89 492.93,87.34 492.96,83.71 492.98,80.01 493.01,76.26 493.03,72.45 493.05,68.62 493.08,64.78 493.10,60.95 493.13,57.19 493.15,53.54 493.18,50.04 493.20,46.77 493.23,43.81 493.25,41.22 493.28,39.09 493.30,37.50 493.32,36.51 493.35,36.15 493.37,36.45 493.40,37.38 493.42,38.91 493.45,40.99 493.47,43.54 493.50,46.47 493.52,49.71 493.54,53.19 493.57,56.83 493.59,60.58 493.62,64.40 493.64,68.24 493.67,72.08 493.69,75.89 493.72,79.65 493.74,83.35 493.77,86.98 493.79,90.54 493.81,94.02 493.84,97.42 493.86,100.74 493.89,103.97 493.91,107.12 493.94,110.20 493.96,113.19 493.99,116.11 494.01,118.95 494.04,121.72 494.06,124.43 494.08,127.06 494.11,129.63 494.13,132.14 494.16,134.59 494.18,136.98 494.21,139.32 494.23,141.60 494.26,143.83 494.28,146.01 494.31,148.15 494.33,150.24 494.35,152.28 494.38,154.28 494.40,156.24 494.43,158.16 494.45,160.04 494.48,161.89 494.50,163.70 494.53,165.47 494.55,167.22 494.57,168.93 494.60,170.60 494.62,172.25 494.65,173.87 494.67,175.46 494.70,177.03 494.72,178.57 494.75,180.08 494.77,181.57 494.80,183.03 494.82,184.47 494.84,185.88 494.87,187.28 494.89,188.65 494.92,190.01 494.94,191.34 494.97,192.65 494.99,193.94 495.02,195.22 495.04,196.47 495.07,197.71 495.09,198.93 495.11,200.14 495.14,201.33 495.16,202.50 495.19,203.66 495.21,204.80 495.24,205.92 495.26,207.04 495.29,208.13 495.31,209.22 495.33,210.29 495.36,211.35 495.38,212.39 495.41,213.42 495.43,214.44 495.46,215.45 495.48,216.45 495.51,217.43 495.53,218.40 495.56,219.36 495.58,220.32 495.60,221.26 495.63,222.18 495.65,223.10 495.68,224.01 495.70,224.91 495.73,225.80 495.75,226.68 495.78,227.56 495.80,228.42 495.83,229.27 495.85,230.12 495.87,230.95 495.90,231.78 495.92,232.60 495.95,233.41 495.97,234.21 496.00,235.01 496.02,235.80 496.05,236.58 496.07,237.35 496.10,238.12 496.12,238.87 496.14,239.63 496.17,240.37 496.19,241.11 496.22,241.84 496.24,242.56 496.27,243.28 496.29,243.99 496.32,244.70 496.34,245.39 496.36,246.09 496.39,246.77 496.41,247.45 496.44,248.13 496.46,248.80 496.49,249.46 496.51,250.12 496.54,250.77 496.56,251.42 496.59,252.06 496.61,252.70 496.63,253.33 496.66,253.95 496.68,254.57 496.71,255.19 496.73,255.80 496.76,256.41 496.78,257.01 496.81,257.60 496.83,258.20 496.86,258.78 496.88,259.37 496.90,259.94 496.93,260.52 496.95,261.09 496.98,261.65 497.00,262.21 497.03,262.77 497.05,263.32 497.08,263.87 497.10,264.42 497.12,264.96 497.15,265.50 497.17,266.03 497.20,266.56 497.22,267.08 497.25,267.60 497.27,268.12 497.30,268.64 497.32,269.15 497.35,269.65 497.37,270.16 497.39,270.66 497.42,271.15 497.44,271.65 497.47,272.14 497.49,272.62 497.52,273.11 497.54,273.59 497.57,274.06 497.59,274.54 497.62,275.01 497.64,275.47 497.66,275.94 497.69,276.40 497.71,276.86 497.74,277.31 497.76,277.76 497.79,278.21 497.81,278.66 497.84,279.10 497.86,279.54 497.88,279.98 497.91,280.41 497.93,280.85 497.96,281.28 497.98,281.70 498.01,282.13 498.03,282.55 498.06,282.97 498.08,283.38 498.11,283.80 498.13,284.21 498.15,284.62 498.18,285.02 498.20,285.43 498.23,285.83 498.25,286.23 498.28,286.62 498.30,287.02 498.33,287.41 498.35,287.80 498.38,288.19 498.40,288.57 498.42,288.95 498.45,289.33 498.47,289.71 498.50,290.09 498.52,290.46 498.55,290.83 498.57,291.20 498.60,291.57 498.62,291.94 498.65,292.30 498.67,292.66 498.69,293.02 498.72,293.38 498.74,293.73 498.77,294.08 498.79,294.43 498.82,294.78 498.84,295.13 498.87,295.48 498.89,295.82 498.91,296.16 498.94,296.50 498.96,296.84 498.99,297.17 499.01,297.51 499.04,297.84 499.06,298.17 499.09,298.50 499.11,298.82 499.14,299.15 499.16,299.47 499.18,299.79 499.21,300.11 499.23,300.43 499.26,300.75 499.28,301.06 499.31,301.37 499.33,301.69 499.36,302.00 499.38,302.30 499.41,302.61 499.43,302.91 499.45,303.22 499.48,303.52 499.50,303.82 499.53,304.12 499.55,304.41 499.58,304.71 499.60,305.00 499.63,305.30 499.65,305.59 499.67,305.88 499.70,306.16 499.72,306.45 499.75,306.74 499.77,307.02 499.80,307.30 499.82,307.58 499.85,307.86 499.87,308.14 499.90,308.42 499.92,308.69 499.94,308.96 499.97,309.24 499.99,309.51 500.02,309.78 500.04,310.05 500.07,310.31 500.09,310.58 500.12,310.84 500.14,311.11 500.17,311.37 500.19,311.63 500.21,311.89 500.24,312.14 500.26,312.40 500.29,312.66 500.31,312.91 500.34,313.16 500.36,313.42 500.39,313.67 500.41,313.92 500.44,314.16 500.46,314.41 500.48,314.66 500.51,314.90 500.53,315.14 500.56,315.39 500.58,315.63 500.61,315.87 500.63,316.11 500.66,316.34 500.68,316.58 500.70,316.82 500.73,317.05 500.75,317.28 500.78,317.52 500.80,317.75 500.83,317.98 500.85,318.20 500.88,318.43 500.90,318.66 500.93,318.89 500.95,319.11 500.97,319.33 501.00,319.56 501.02,319.78 501.05,320.00 501.07,320.22 501.10,320.44 501.12,320.65 501.15,320.87 501.17,321.09 501.20,321.30 501.22,321.51 501.24,321.73 501.27,321.94 501.29,322.15 501.32,322.36 501.34,322.57 501.37,322.77 501.39,322.98 501.42,323.19 501.44,323.39 501.46,323.60 501.49,323.80 501.51,324.00 501.54,324.20 501.56,324.40 501.59,324.60 501.61,324.80 501.64,325.00 501.66,325.20 501.69,325.39 501.71,325.59 501.73,325.78 501.76,325.98 501.78,326.17 501.81,326.36 501.83,326.55 501.86,326.74 501.88,326.93 501.91,327.12 501.93,327.31 501.96,327.49 501.98,327.68 502.00,327.86 502.03,328.05 502.05,328.23 502.08,328.41 502.10,328.60 502.13,328.78 502.15,328.96 502.18,329.14 502.20,329.32 502.23,329.49 502.25,329.67 502.27,329.85 502.30,330.02 502.32,330.20 502.35,330.37 502.37,330.55 502.40,330.72 502.42,330.89 502.45,331.06 502.47,331.23 502.49,331.40 502.52,331.57 502.54,331.74 502.57,331.91 502.59,332.07 502.62,332.24 502.64,332.41 502.67,332.57 502.69,332.74 502.72,332.90 502.74,333.06 502.76,333.22 502.79,333.38 502.81,333.55 502.84,333.71 502.86,333.86 502.89,334.02 502.91,334.18 502.94,334.34 502.96,334.50 502.99,334.65 503.01,334.81 503.03,334.96 503.06,335.12 503.08,335.27 503.11,335.42 503.13,335.57 503.16,335.73 503.18,335.88 503.21,336.03 503.23,336.18 503.25,336.33 503.28,336.47 503.30,336.62 503.33,336.77 503.35,336.92 503.38,337.06 503.40,337.21 503.43,337.35 503.45,337.50 503.48,337.64 503.50,337.78 503.52,337.92 503.55,338.07 503.57,338.21 503.60,338.35 503.62,338.49 503.65,338.63 503.67,338.77 503.70,338.91 503.72,339.04 503.75,339.18 503.77,339.32 503.79,339.45 503.82,339.59 503.84,339.72 503.87,339.86 503.89,339.99 503.92,340.13 503.94,340.26 503.97,340.39 503.99,340.52 504.01,340.65 504.04,340.79 504.06,340.92 504.09,341.05 504.11,341.17 504.14,341.30 504.16,341.43 504.19,341.56 504.21,341.69 504.24,341.81 504.26,341.94 504.28,342.07 504.31,342.19 504.33,342.31 504.36,342.44 504.38,342.56 504.41,342.69 504.43,342.81 504.46,342.93 504.48,343.05 504.51,343.17 504.53,343.29 504.55,343.41 504.58,343.53 504.60,343.65 504.63,343.77 504.65,343.89 504.68,344.01 504.70,344.13 504.73,344.24 504.75,344.36 504.78,344.48 504.80,344.59 504.82,344.71 504.85,344.82 504.87,344.94 504.90,345.05 504.92,345.16 504.95,345.28 504.97,345.39 505.00,345.50 505.02,345.61 505.04,345.72 505.07,345.83 505.09,345.94 505.12,346.05 505.14,346.16 505.17,346.27 505.19,346.38 505.22,346.49 505.24,346.60 505.27,346.70 505.29,346.81 505.31,346.92 505.34,347.02 505.36,347.13 505.39,347.23 505.41,347.34 505.44,347.44 505.46,347.55 505.49,347.65 505.51,347.75 505.54,347.86 505.56,347.96 505.58,348.06 505.61,348.16 505.63,348.26 505.66,348.36 505.68,348.47 505.71,348.57 505.73,348.67 505.76,348.76 505.78,348.86 505.80,348.96 505.83,349.06 505.85,349.16 505.88,349.26 505.90,349.35 505.93,349.45 505.95,349.55 505.98,349.64 506.00,349.74 506.03,349.83 506.05,349.93 506.07,350.02 506.10,350.12 506.12,350.21 506.15,350.30 506.17,350.40 506.20,350.49 506.22,350.58 506.25,350.67 506.27,350.77 506.30,350.86 506.32,350.95 506.34,351.04 506.37,351.13 506.39,351.22 506.42,351.31 506.44,351.40 506.47,351.49 506.49,351.57 506.52,351.66 506.54,351.75 506.57,351.84 506.59,351.93 506.61,352.01 506.64,352.10 506.66,352.19 506.69,352.27 506.71,352.36 506.74,352.44 506.76,352.53 506.79,352.61 506.81,352.70 506.83,352.78 506.86,352.86 506.88,352.95 506.91,353.03 506.93,353.11 506.96,353.20 506.98,353.28 507.01,353.36 507.03,353.44 507.06,353.52 507.08,353.60 507.10,353.69 507.13,353.77 507.15,353.85 507.18,353.93 507.20,354.00 507.23,354.08 507.25,354.16 507.28,354.24 507.30,354.32 507.33,354.40 507.35,354.48 507.37,354.55 507.40,354.63 507.42,354.71 507.45,354.78 507.47,354.86 507.50,354.94 507.52,355.01 507.55,355.09 507.57,355.16 507.59,355.24 507.62,355.31 507.64,355.39 507.67,355.46 507.69,355.53 507.72,355.61 507.74,355.68 507.77,355.75 507.79,355.83 507.82,355.90 507.84,355.97 507.86,356.04 507.89,356.12 507.91,356.19 507.94,356.26 507.96,356.33 507.99,356.40 508.01,356.47 508.04,356.54 508.06,356.61 508.09,356.68 508.11,356.75 508.13,356.82 508.16,356.89 508.18,356.96 508.21,357.02 508.23,357.09 508.26,357.16 508.28,357.23 508.31,357.29 508.33,357.36 508.36,357.43 508.38,357.50 508.40,357.56 508.43,357.63 508.45,357.69 508.48,357.76 508.50,357.82 508.53,357.89 508.55,357.95 508.58,358.02 508.60,358.08 508.62,358.15 508.65,358.21 508.67,358.28 508.70,358.34 508.72,358.40 508.75,358.47 508.77,358.53 508.80,358.59 508.82,358.65 508.85,358.72 508.87,358.78 508.89,358.84 508.92,358.90 508.94,358.96 508.97,359.02 508.99,359.09 509.02,359.15 509.04,359.21 509.07,359.27 509.09,359.33 509.12,359.39 509.14,359.45 509.16,359.51 509.19,359.56 509.21,359.62 509.24,359.68 509.26,359.74 509.29,359.80 509.31,359.86 509.34,359.91 509.36,359.97 509.38,360.03 509.41,360.09 509.43,360.14 509.46,360.20 509.48,360.26 509.51,360.31 509.53,360.37 509.56,360.43 509.58,360.48 509.61,360.54 509.63,360.59 509.65,360.65 509.68,360.70 509.70,360.76 509.73,360.81 509.75,360.87 509.78,360.92 509.80,360.98 509.83,361.03 509.85,361.08 509.88,361.14 509.90,361.19 509.92,361.24 509.95,361.30 509.97,361.35 510.00,361.40 510.02,361.46 510.05,361.51 510.07,361.56 510.10,361.61 510.12,361.66 510.14,361.71 510.17,361.77 510.19,361.82 510.22,361.87 510.24,361.92 510.27,361.97 510.29,362.02 510.32,362.07 510.34,362.12 510.37,362.17 510.39,362.22 510.41,362.27 510.44,362.32 510.46,362.37 510.49,362.42 510.51,362.47 510.54,362.52 510.56,362.56 510.59,362.61 510.61,362.66 510.64,362.71 510.66,362.76 510.68,362.80 510.71,362.85 510.73,362.90 510.76,362.95 510.78,362.99 510.81,363.04 510.83,363.09 510.86,363.13 510.88,363.18 510.91,363.23 510.93,363.27 510.95,363.32 510.98,363.36 511.00,363.41 511.03,363.45 511.05,363.50 511.08,363.54 511.10,363.59 511.13,363.63 511.15,363.68 511.17,363.72 511.20,363.77 511.22,363.81 511.25,363.86 511.27,363.90 511.30,363.94 511.32,363.99 511.35,364.03 511.37,364.07 511.40,364.12 511.42,364.16 511.44,364.20 511.47,364.25 511.49,364.29 512.47,365.88 513.46,367.26 514.44,368.48 515.42,369.54 516.40,370.47 517.38,371.30 518.36,372.02 519.34,372.66 520.32,373.23 521.30,373.74 522.28,374.19 523.26,374.58 524.24,374.94 525.22,375.26 526.21,375.54 527.19,375.80 528.17,376.03 529.15,376.24 530.13,376.42 531.11,376.59 532.09,376.74 533.07,376.88 534.05,377.01 535.03,377.12 536.01,377.22 536.99,377.32 537.98,377.40 538.96,377.48 539.94,377.55 540.92,377.62 541.90,377.68 542.88,377.73 543.86,377.78 544.84,377.83 545.82,377.87 546.80,377.91 547.78,377.95 548.76,377.98 549.74,378.02 550.73,378.04 551.71,378.07 552.69,378.10 553.67,378.12 554.65,378.14 555.63,378.16 556.61,378.18 557.59,378.20 558.57,378.21 559.55,378.23 560.53,378.24 561.51,378.26 562.50,378.27 563.48,378.28 564.46,378.29 565.44,378.30 566.42,378.31 567.40,378.32 568.38,378.33 569.36,378.34 570.34,378.35 571.32,378.35 572.30,378.36 573.28,378.37 574.26,378.37 575.25,378.38 576.23,378.38 577.21,378.39 578.19,378.39 579.17,378.40 580.15,378.40 581.13,378.41 582.11,378.41 583.09,378.41 584.07,378.42 585.05,378.42 586.03,378.42" stroke="#ff00ff" stroke-width="1.3" fill="none" clip-path="url(#c)"/><path d="M102.50 436.5v-18.5M102.50 62.5v18.5M127.02 436.5v-9.5M127.02 62.5v9.5M151.54 436.5v-9.5M151.54 62.5v9.5M176.06 436.5v-9.5M176.06 62.5v9.5M200.58 436.5v-18.5M200.58 62.5v18.5M225.10 436.5v-9.5M225.10 62.5v9.5M249.62 436.5v-9.5M249.62 62.5v9.5M274.14 436.5v-9.5M274.14 62.5v9.5M298.66 436.5v-18.5M298.66 62.5v18.5M323.18 436.5v-9.5M323.18 62.5v9.5M347.70 436.5v-9.5M347.70 62.5v9.5M372.22 436.5v-9.5M372.22 62.5v9.5M396.74 436.5v-18.5M396.74 62.5v18.5M421.26 436.5v-9.5M421.26 62.5v9.5M445.78 436.5v-9.5M445.78 62.5v9.5M470.30 436.5v-9.5M470.30 62.5v9.5M494.82 436.5v-18.5M494.82 62.5v18.5M519.34 436.5v-9.5M519.34 62.5v9.5M543.86 436.5v-9.5M543.86 62.5v9.5M568.38 436.5v-9.5M568.38 62.5v9.5M87.5 71.30h9.5M587.5 71.30h-9.5M87.5 88.02h9.5M587.5 88.02h-9.5M87.5 104.75h9.5M587.5 104.75h-9.5M87.5 121.47h9.5M587.5 121.47h-9.5M87.5 138.20h19M587.5 138.20h-19M87.5 154.93h9.5M587.5 154.93h-9.5M87.5 171.65h9.5M587.5 171.65h-9.5M87.5 188.38h9.5M587.5 188.38h-9.5M87.5 205.10h9.5M587.5 205.10h-9.5M87.5 221.83h19M587.5 221.83h-19M87.5 238.56h9.5M587.5 238.56h-9.5M87.5 255.28h9.5M587.5 255.28h-9.5M87.5 272.01h9.5M587.5 272.01h-9.5M87.5 288.73h9.5M587.5 288.73h-9.5M87.5 305.46h19M587.5 305.46h-19M87.5 322.19h9.5M587.5 322.19h-9.5M87.5 338.91h9.5M587.5 338.91h-9.5M87.5 355.64h9.5M587.5 355.64h-9.5M87.5 372.36h9.5M587.5 372.36h-9.5M87.5 389.09h19M587.5 389.09h-19M87.5 405.82h9.5M587.5 405.82h-9.5M87.5 422.54h9.5M587.5 422.54h-9.5" stroke="#000" stroke-width="1" fill="none"/><path d="M87.5 62.5H587.5V436.5M87.5 62.5V436.5" stroke="#000" stroke-width="1" fill="none"/><path d="M87.0 437.0H588.0" stroke="#000" stroke-width="1.4" fill="none"/>
<text x="337" y="41.3" font-family="Liberation Serif" stroke="#000" stroke-width="0.35" style="stroke-width:0.45" font-size="19.5" text-anchor="middle" textLength="195.7" lengthAdjust="spacingAndGlyphs">OGLE-2025-BLG-0601</text><text x="102.50" y="462.4" font-family="Liberation Serif" stroke="#000" stroke-width="0.35" font-size="19.5" text-anchor="middle" textLength="52.6" lengthAdjust="spacingAndGlyphs">10000</text><text x="200.58" y="462.4" font-family="Liberation Serif" stroke="#000" stroke-width="0.35" font-size="19.5" text-anchor="middle" textLength="52.6" lengthAdjust="spacingAndGlyphs">10200</text><text x="298.66" y="462.4" font-family="Liberation Serif" stroke="#000" stroke-width="0.35" font-size="19.5" text-anchor="middle" textLength="52.6" lengthAdjust="spacingAndGlyphs">10400</text><text x="396.74" y="462.4" font-family="Liberation Serif" stroke="#000" stroke-width="0.35" font-size="19.5" text-anchor="middle" textLength="52.6" lengthAdjust="spacingAndGlyphs">10600</text><text x="494.82" y="462.4" font-family="Liberation Serif" stroke="#000" stroke-width="0.35" font-size="19.5" text-anchor="middle" textLength="52.6" lengthAdjust="spacingAndGlyphs">10800</text><text x="78.3" y="145.00" font-family="Liberation Serif" stroke="#000" stroke-width="0.35" font-size="19.5" text-anchor="end" textLength="20.0" lengthAdjust="spacingAndGlyphs">17</text><text x="78.3" y="228.63" font-family="Liberation Serif" stroke="#000" stroke-width="0.35" font-size="19.5" text-anchor="end" textLength="20.6" lengthAdjust="spacingAndGlyphs">18</text><text x="78.3" y="312.26" font-family="Liberation Serif" stroke="#000" stroke-width="0.35" font-size="19.5" text-anchor="end" textLength="20.6" lengthAdjust="spacingAndGlyphs">19</text><text x="78.3" y="395.89" font-family="Liberation Serif" stroke="#000" stroke-width="0.35" font-size="19.5" text-anchor="end" textLength="21.5" lengthAdjust="spacingAndGlyphs">20</text><text x="336.6" y="491.3" font-family="Liberation Serif" stroke="#000" stroke-width="0.35" font-size="19.5" text-anchor="middle" textLength="126.7" lengthAdjust="spacingAndGlyphs">HJD - 2450000</text><text transform="translate(26.2,249.6) rotate(-90)" x="0" y="0" font-family="Liberation Serif" stroke="#000" stroke-width="0.35" font-size="19.5" text-anchor="middle" textLength="104.1" lengthAdjust="spacingAndGlyphs">I magnitude</text>
</svg></body></html>
